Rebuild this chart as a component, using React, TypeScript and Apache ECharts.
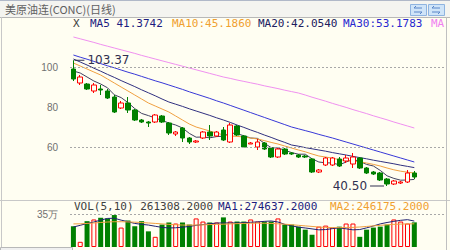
import React, { useEffect, useRef } from "react";
import * as echarts from "echarts";

// ---- data ----
const slotCount = 55; // 51 trading days + empty slots on the right
const categories = Array.from({ length: slotCount }, (_, i) => String(i + 1));

const openP = [99, 92, 91.5, 88, 89, 88, 85, 79.5, 82, 78.5, 73.5, 72.5, 72.5, 75.5, 72, 66.5, 69.5, 64.5, 62.5, 64.5, 67.5, 65.5, 68.5, 62.5, 70.5, 65.5, 61.5, 60, 62, 59.5, 55, 59, 57, 56, 55.5, 54, 47.5, 51, 51, 54, 53, 51.5, 54.5, 49.5, 47.5, 47, 44, 41.5, 42, 42.5, 47];
const closeP = [94, 95, 89, 91, 88.5, 84.5, 77.5, 82, 78.5, 73.5, 72.5, 72, 76, 72.5, 67, 67.5, 64.5, 62.5, 63, 67.5, 65.5, 67.5, 63.5, 71, 66, 60, 62, 62.5, 59, 55, 59, 56.5, 56.5, 55, 55, 47.5, 48.5, 54.5, 54.5, 50.5, 54.5, 55, 49.5, 47, 46.5, 43.5, 41.5, 43, 42.5, 47, 45];
const lowP = [93, 91, 88.5, 87, 86, 84, 77, 79, 77, 73, 72, 70, 72, 72, 66, 65.5, 62.5, 61.5, 62, 64, 63.5, 65, 63, 62, 65.5, 59.5, 61.5, 58.5, 58.5, 54.5, 54.5, 56, 56, 54.5, 54.5, 47, 47, 50.5, 50.5, 50, 52, 49.5, 49, 46.5, 46, 43, 40.5, 41, 41.5, 42, 44];
const highP = [103.37, 96, 92, 92, 91, 89, 86, 83, 85, 79, 74, 73, 76.5, 76, 72.5, 68, 70, 65, 63.5, 68, 71, 68, 70, 72, 71, 66, 62.5, 64, 62.5, 60, 59.5, 59.5, 57.5, 56.5, 56, 54.5, 49, 55, 55, 55, 56, 57, 55, 50, 48, 47.5, 44.5, 43.5, 43, 48.5, 48];

const ma5 = [98, 97, 95, 93, 91.5, 89.6, 86.1, 84.7, 82.2, 79.2, 76.8, 75.7, 74.5, 73.3, 72, 71, 69.5, 66.8, 64.9, 65, 64.6, 65.2, 65.4, 67, 66.7, 65.6, 64.5, 64.3, 61.9, 59.7, 59.5, 58.4, 57.2, 56.4, 56.4, 54.1, 52.5, 52.1, 52, 51.1, 52.5, 53.8, 52.8, 51.3, 50.5, 48.3, 45.6, 44.3, 43.4, 43.5, 43.8];
const ma10 = [102, 100.5, 99, 97.5, 96, 94, 92, 90, 88, 86, 84, 82, 80.5, 79, 77.5, 75.5, 73.5, 71.5, 70, 69, 68, 67, 66, 65.5, 65.3, 65, 64.5, 64, 63.2, 62.3, 61.5, 60.5, 59.5, 58.5, 57.6, 56.5, 55.5, 55, 54.4, 53.7, 53.2, 53, 52.6, 52, 51.3, 50.5, 49.5, 48.6, 47.9, 47.4, 47];
const ma20 = [104, 102.5, 101, 99.4, 97.9, 96.3, 94.8, 93.2, 91.7, 90.2, 88.6, 87.1, 85.6, 84, 82.5, 81.4, 80.3, 79.1, 78, 76.9, 75.8, 74.6, 73.5, 72.3, 71, 69.8, 68.5, 67.3, 66, 64.8, 63.5, 62.3, 61, 60.4, 59.7, 59.1, 58.5, 57.9, 57.2, 56.6, 56, 55.3, 54.7, 54.1, 53.4, 52.8, 52.2, 51.6, 50.9, 50.3, 49.7];
const ma30 = [106, 104.9, 103.9, 102.8, 101.7, 100.6, 99.6, 98.5, 97.4, 96.4, 95.3, 94.2, 93.1, 92.1, 91, 89.9, 88.8, 87.6, 86.5, 85.4, 84.3, 83.1, 82, 80.8, 79.6, 78.4, 77.2, 76, 74.8, 73.6, 72.4, 71.2, 70, 69.1, 68.2, 67.3, 66.3, 65.4, 64.5, 63.5, 62.5, 61.5, 60.5, 59.5, 58.5, 57.5, 56.5, 55.5, 54.5, 53.5, 52.5];
const ma60 = [115, 114.1, 113.2, 112.3, 111.3, 110.4, 109.5, 108.6, 107.7, 106.8, 105.8, 104.9, 104, 103.1, 102.2, 101.3, 100.4, 99.5, 98.6, 97.7, 96.8, 95.9, 95, 94.3, 93.5, 92.8, 92.1, 91.4, 90.6, 89.9, 89.2, 88.4, 87.7, 87, 86, 84.9, 83.9, 82.9, 81.8, 80.8, 79.8, 78.7, 77.7, 76.7, 75.6, 74.6, 73.6, 72.5, 71.5, 70.5, 69.5];

// volume in 万 (x10000)
const volume = [22, 5.5, 27.4, 29.2, 31, 30.3, 33.9, 20.6, 28.1, 22, 27.4, 16.6, 10.8, 23.8, 26, 24.9, 26, 23.8, 30.3, 27, 26, 26, 31.4, 27, 27, 27, 29.2, 27, 27, 27, 30.3, 23.8, 23.8, 21.6, 18.4, 13, 21.6, 22.7, 20.6, 21.6, 24.9, 24.9, 10.8, 18.4, 20.6, 21.6, 23.8, 29.2, 27, 24.9, 26.13];
const volMa1 = [21.2, 23, 25, 26.5, 28.5, 30.3, 30.5, 28.5, 26.8, 25, 24, 23.3, 22, 20.8, 20.2, 20.4, 21, 21.8, 23, 23.8, 24.6, 25.4, 25.5, 25.5, 25.5, 25.8, 26.2, 26.6, 27.2, 27.6, 26.5, 24, 22.5, 21, 20.2, 19.2, 18.2, 18.5, 19.5, 20.2, 19.3, 18.2, 18.5, 20.3, 22.3, 24.5, 26, 27.2, 28.3, 29, 27.5];
const volMa2 = [24.5, 24.6, 25, 25.5, 26, 26.5, 26.8, 26.8, 26.6, 26.3, 26, 25.5, 25, 24.5, 24, 23.6, 23.3, 23.2, 23.3, 23.5, 23.8, 24, 24.2, 24.5, 24.8, 25, 25.2, 25.3, 25.2, 25, 24.6, 24.2, 23.6, 23, 22.4, 21.8, 21.2, 20.8, 20.6, 20.5, 20.6, 20.8, 21.2, 21.8, 22.4, 23, 23.5, 24, 24.3, 24.5, 24.6];

const priceTicks = [60, 80, 100];
const priceGridLines = [60, 100];
const volTop = 35; // 35万
const maxLabel = "103.37";
const minLabel = "40.50";
const maxIndex = 0;
const minIndex = 46;

const title = "美原油连(CONC)(日线)";
const legendItems = [
  { text: "X", color: "#404040", x: 73 },
  { text: "MA5 41.3742", color: "#1c1c80", x: 90 },
  { text: "MA10:45.1860", color: "#f0a030", x: 172 },
  { text: "MA20:42.0540", color: "#202060", x: 258 },
  { text: "MA30:53.1783", color: "#2828d0", x: 343 },
  { text: "MA", color: "#f080f0", x: 431 },
];
const volLegendItems = [
  { text: "VOL(5,10) 261308.2000", color: "#404040", x: 74 },
  { text: "MA1:274637.2000", color: "#1c1c80", x: 218 },
  { text: "MA2:246175.2000", color: "#f0a030", x: 330 },
];

const BG = "#FFFEF2";
const UP = "#FF0000";
const DOWN = "#008000";
const MONO = "DejaVu Sans Mono";

export default function App() {
  const ref = useRef<HTMLDivElement>(null);
  useEffect(() => {
    if (!ref.current) return;
    const chart = echarts.init(ref.current, undefined, { renderer: "svg" });
    const candles = openP.map((o, i) => [o, closeP[i], lowP[i], highP[i]]);
    const volData = volume.map((v, i) => {
      const up = closeP[i] >= openP[i];
      return {
        value: v * 10000,
        itemStyle: up
          ? { color: BG, borderColor: UP, borderWidth: 1 }
          : { color: DOWN, borderColor: DOWN, borderWidth: 0 },
      };
    });
    const lineS = (name: string, data: number[], color: string, xi = 0, scale = 1) => ({
      name,
      type: "line",
      xAxisIndex: xi,
      yAxisIndex: xi,
      data: data.map((v) => v * scale),
      symbol: "none",
      silent: true,
      lineStyle: { color, width: 1 },
      z: 3,
    });
    const graphic: any[] = [
      { type: "rect", shape: { x: 0, y: 0, width: 450, height: 17 }, style: { fill: "#F4F4F0" } },
      { type: "line", shape: { x1: 0, y1: 0.5, x2: 450, y2: 0.5 }, style: { stroke: "#B0B8C8", lineWidth: 1 } },
      { type: "line", shape: { x1: 0, y1: 17.5, x2: 450, y2: 17.5 }, style: { stroke: "#B8B8B8", lineWidth: 1 } },
      {
        type: "text",
        x: 5,
        y: 9,
        style: { text: title, fill: "#606060", font: '11px "Noto Sans CJK SC"', verticalAlign: "middle" },
      },
      { type: "rect", shape: { x: 410.5, y: 4.5, width: 16, height: 11 }, style: { fill: "#CFE4F8", stroke: "#8FB4E0", lineWidth: 1 } },
      { type: "rect", shape: { x: 428.5, y: 4.5, width: 16, height: 11 }, style: { fill: "#CFE4F8", stroke: "#8FB4E0", lineWidth: 1 } },
      { type: "polyline", shape: { points: [[422, 8], [414, 8], [416, 6]] }, style: { stroke: "#5a86c8", lineWidth: 1, fill: null } },
      { type: "polyline", shape: { points: [[414, 12], [422, 12], [420, 14]] }, style: { stroke: "#5a86c8", lineWidth: 1, fill: null } },
      { type: "polyline", shape: { points: [[440, 8], [432, 8], [434, 6]] }, style: { stroke: "#5a86c8", lineWidth: 1, fill: null } },
      { type: "polyline", shape: { points: [[432, 12], [440, 12], [438, 14]] }, style: { stroke: "#5a86c8", lineWidth: 1, fill: null } },
      { type: "line", shape: { x1: 1.5, y1: 17, x2: 1.5, y2: 250 }, style: { stroke: "#C8C8C8", lineWidth: 1 } },
      { type: "line", shape: { x1: 0, y1: 200.5, x2: 450, y2: 200.5 }, style: { stroke: "#C8C8C8", lineWidth: 1 } },
      { type: "rect", shape: { x: 0.5, y: 247.5, width: 72, height: 4 }, style: { fill: "#F0F0F0", stroke: "#B8B8B8", lineWidth: 1 } },
      { type: "line", shape: { x1: 446.5, y1: 17, x2: 446.5, y2: 250 }, style: { stroke: "#C0C0C0", lineWidth: 1 } },
    ];
    legendItems.forEach((it) =>
      graphic.push({
        type: "text",
        x: it.x,
        y: 23.5,
        style: { text: it.text, fill: it.color, font: `11px "${MONO}"`, verticalAlign: "middle" },
      })
    );
    volLegendItems.forEach((it) =>
      graphic.push({
        type: "text",
        x: it.x,
        y: 206,
        style: { text: it.text, fill: it.color, font: `11px "${MONO}"`, verticalAlign: "middle" },
      })
    );

    const option: any = {
      animation: false,
      backgroundColor: BG,
      grid: [
        { left: 70, right: 5, top: 28, height: 170 },
        { left: 70, right: 5, top: 214, height: 33 },
      ],
      xAxis: [
        { type: "category", data: categories, gridIndex: 0, show: false, boundaryGap: true },
        { type: "category", data: categories, gridIndex: 1, show: false, boundaryGap: true },
      ],
      yAxis: [
        {
          type: "value",
          gridIndex: 0,
          min: 34.5,
          max: 119.5,
          splitLine: { show: false },
          axisLine: { show: false },
          axisTick: { show: false },
          axisLabel: {
            customValues: priceTicks,
            color: "#707070",
            fontSize: 10,
            fontFamily: "Liberation Sans",
            margin: 12,
          },
        },
        {
          type: "value",
          gridIndex: 1,
          min: 0,
          max: volTop * 10000,
          splitLine: { show: false },
          axisLine: { show: false },
          axisTick: { show: false },
          axisLabel: {
            customValues: [volTop * 10000],
            formatter: (v: number) => `${Math.round(v / 10000)}万`,
            color: "#707070",
            fontSize: 10,
            fontFamily: "Liberation Sans",
            margin: 12,
          },
        },
      ],
      graphic,
      series: [
        {
          type: "candlestick",
          xAxisIndex: 0,
          yAxisIndex: 0,
          data: candles,
          barWidth: 5,
          z: 4,
          itemStyle: {
            color: BG,
            color0: DOWN,
            borderColor: UP,
            borderColor0: DOWN,
            borderWidth: 1,
          },
          markLine: {
            silent: true,
            symbol: ["none", "none"],
            label: { show: false },
            lineStyle: { type: [2, 2], color: "#A8A8A8", width: 1 },
            data: priceGridLines.map((t) => ({ yAxis: t })),
          },
          markPoint: {
            silent: true,
            data: [
              {
                coord: [maxIndex, highP[maxIndex]],
                symbol: "rect",
                symbolSize: [10, 1],
                symbolOffset: [6, 0],
                itemStyle: { color: "#303050" },
                label: {
                  show: true,
                  position: "right",
                  distance: 3,
                  formatter: maxLabel,
                  color: "#303050",
                  fontSize: 12,
                  fontFamily: "DejaVu Sans",
                },
              },
              {
                coord: [minIndex, lowP[minIndex]],
                symbol: "rect",
                symbolSize: [14, 1],
                symbolOffset: [-10, 0],
                itemStyle: { color: "#303050" },
                label: {
                  show: true,
                  position: "left",
                  distance: 3,
                  formatter: minLabel,
                  color: "#303050",
                  fontSize: 12,
                  fontFamily: "DejaVu Sans",
                },
              },
            ],
          },
        },
        lineS("MA5", ma5, "#404060"),
        lineS("MA10", ma10, "#F0A040"),
        lineS("MA20", ma20, "#303080"),
        lineS("MA30", ma30, "#3838D8"),
        lineS("MA60", ma60, "#F090F0"),
        {
          type: "bar",
          xAxisIndex: 1,
          yAxisIndex: 1,
          data: volData,
          barWidth: 5,
          z: 2,
          markLine: {
            silent: true,
            symbol: ["none", "none"],
            label: { show: false },
            lineStyle: { type: [2, 2], color: "#A8A8A8", width: 1 },
            data: [{ yAxis: volTop * 10000 }],
          },
        },
        lineS("VMA1", volMa1, "#202070", 1, 10000),
        lineS("VMA2", volMa2, "#F0A040", 1, 10000),
      ],
    };
    chart.setOption(option);
    return () => chart.dispose();
  }, []);
  return (
    <div
      ref={ref}
      style={{ position: "absolute", left: 0, top: 0, width: 450, height: 250 }}
    />
  );
}
